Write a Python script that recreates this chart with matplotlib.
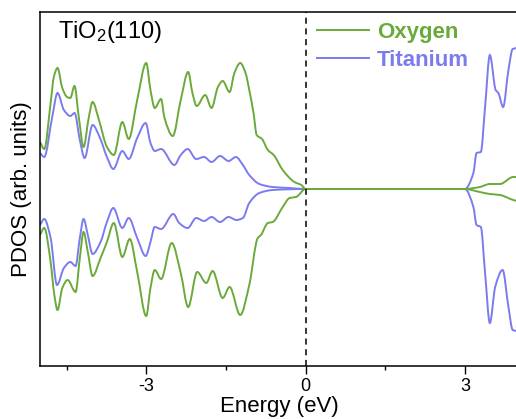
import numpy as np
import matplotlib
matplotlib.use('Agg')
import matplotlib.pyplot as plt
from matplotlib.path import Path
from matplotlib.patches import PathPatch
from matplotlib.lines import Line2D

plt.rcParams['font.family'] = ['Liberation Sans', 'DejaVu Sans']
plt.rcParams['mathtext.default'] = 'regular'
plt.rcParams['axes.unicode_minus'] = False

# PDOS (energy in eV, arbitrary units), spin up > 0, spin down < 0
o_up_e = [-5.00, -4.92, -4.80, -4.74, -4.67, -4.58, -4.49, -4.43, -4.35, -4.27, -4.18, -4.08,
          -4.01, -3.89, -3.74, -3.61, -3.45, -3.33, -3.17, -3.00, -2.92, -2.84, -2.72, -2.66,
          -2.50, -2.35, -2.21, -2.13, -2.05, -1.89, -1.77, -1.65, -1.56, -1.43, -1.34, -1.23,
          -1.13, -1.06, -0.98, -0.92, -0.82, -0.71, -0.60, -0.43, -0.21, -0.08, 0.00,
          3.00, 3.28, 3.47, 3.66, 3.91, 3.98]
o_up_v = [47, 40, 86, 112, 121, 101, 92, 91, 103, 72, 42, 72,
          87, 69, 42, 34, 67, 50, 89, 126, 99, 81, 90, 72,
          53, 89, 117, 96, 83, 94, 81, 102, 108, 97, 116, 126,
          116, 99, 76, 54, 50, 39, 34, 19, 7, 4, 0,
          0, 2, 5, 5, 12, 12]

ti_up_e = [-5.00, -4.92, -4.77, -4.67, -4.55, -4.43, -4.35, -4.25, -4.16, -4.01, -3.87, -3.74,
           -3.62, -3.45, -3.33, -3.17, -3.01, -2.92, -2.84, -2.72, -2.47, -2.35, -2.22, -2.06,
           -1.91, -1.77, -1.61, -1.45, -1.31, -1.18, -1.06, -0.87, -0.62, -0.30, 0.00,
           3.00, 3.16, 3.22, 3.30, 3.38, 3.47, 3.58, 3.63, 3.72, 3.82, 3.90, 3.98]
ti_up_v = [36, 32, 72, 96, 79, 73, 76, 49, 31, 64, 51, 32,
           20, 38, 30, 51, 66, 46, 38, 40, 24, 34, 40, 30,
           32, 27, 33, 28, 32, 24, 14, 5, 2, 1, 0,
           0, 16, 36, 37, 82, 134, 99, 96, 82, 119, 140, 141]

o_dn_e = [-5.00, -4.92, -4.80, -4.73, -4.67, -4.58, -4.48, -4.33, -4.25, -4.18, -4.10, -4.01,
          -3.86, -3.74, -3.61, -3.45, -3.31, -3.17, -3.00, -2.92, -2.84, -2.72, -2.52, -2.35,
          -2.21, -2.04, -1.87, -1.75, -1.56, -1.43, -1.23, -1.06, -0.90, -0.84, -0.71, -0.62,
          -0.43, -0.30, -0.18, 0.00,
          3.00, 3.28, 3.47, 3.66, 3.91, 3.98]
o_dn_v = [-46, -39, -73, -106, -121, -99, -91, -103, -69, -43, -63, -87,
          -69, -53, -34, -68, -50, -83, -127, -99, -81, -90, -54, -84,
          -118, -83, -94, -82, -109, -98, -126, -96, -49, -46, -34, -33,
          -18, -9, -8, 0,
          0, -3, -5, -6, -11, -12]

ti_dn_e = [-5.00, -4.92, -4.80, -4.68, -4.55, -4.43, -4.33, -4.25, -4.18, -4.10, -4.01, -3.86,
           -3.74, -3.62, -3.45, -3.33, -3.17, -3.01, -2.92, -2.84, -2.72, -2.49, -2.38, -2.22,
           -2.06, -1.91, -1.77, -1.61, -1.45, -1.30, -1.18, -1.06, -0.87, -0.62, 0.00,
           3.00, 3.16, 3.22, 3.30, 3.38, 3.47, 3.57, 3.71, 3.82, 3.90, 3.98]
ti_dn_v = [-36, -30, -49, -96, -79, -73, -77, -49, -30, -46, -65, -53,
           -33, -19, -39, -29, -49, -67, -53, -38, -40, -25, -34, -39,
           -29, -32, -28, -33, -28, -31, -29, -14, -4, -1, 0,
           0, -18, -36, -38, -84, -134, -98, -81, -118, -141, -142]

green = '#6aaa3a'
blue = '#7b7bef'


def smooth_path(x, y):
    """Bezier path through the read points (flat tangent at extrema, so no overshoot)."""
    x = np.asarray(x, float)
    y = np.asarray(y, float)
    h = np.diff(x)
    d = np.diff(y) / h
    m = np.zeros_like(y)
    for i in range(1, len(y) - 1):
        if d[i - 1] * d[i] > 0:
            w1 = 2 * h[i] + h[i - 1]
            w2 = h[i] + 2 * h[i - 1]
            m[i] = (w1 + w2) / (w1 / d[i - 1] + w2 / d[i])
    m[0] = d[0]
    m[-1] = d[-1]
    verts = [(x[0], y[0])]
    codes = [Path.MOVETO]
    for i in range(len(x) - 1):
        verts += [(x[i] + h[i] / 3, y[i] + m[i] * h[i] / 3),
                  (x[i + 1] - h[i] / 3, y[i + 1] - m[i + 1] * h[i] / 3),
                  (x[i + 1], y[i + 1])]
        codes += [Path.CURVE4] * 3
    return Path(verts, codes)


fig = plt.figure(figsize=(5.16, 4.19), dpi=100)
ax = fig.add_axes([40/516, 1 - 366/419, 478/516, 354/419])

for e, v, c in [(ti_up_e, ti_up_v, blue), (ti_dn_e, ti_dn_v, blue),
                (o_up_e, o_up_v, green), (o_dn_e, o_dn_v, green)]:
    ax.add_patch(PathPatch(smooth_path(e, v), fill=False, edgecolor=c, lw=1.4))
ax.axvline(0, color='black', lw=1.1, ls=(0, (4, 3)))

ax.set_xlim(-5, 4)
ax.set_ylim(-177, 177)
ax.set_xticks([-3, 0, 3])
ax.set_xticks([-4.5, -1.5, 1.5], minor=True)
ax.set_yticks([])
ax.tick_params(axis='x', which='major', direction='out', length=5.5, width=1.0,
               labelsize=13, pad=3)
ax.tick_params(axis='x', which='minor', direction='out', length=3, width=1.0)
for s in ax.spines.values():
    s.set_linewidth(1.1)

ax.set_xlabel('Energy (eV)', fontsize=16, labelpad=1)
ax.set_ylabel('PDOS (arb. units)', fontsize=16, labelpad=6)

ax.text(18/478, (366 - 38)/354, 'TiO$_2$(110)', fontsize=17,
        transform=ax.transAxes, va='baseline', ha='left')

handles = [Line2D([], [], color=green, lw=1.4), Line2D([], [], color=blue, lw=1.4)]
ax.legend(handles, ['Oxygen', 'Titanium'], loc='upper left',
          bbox_to_anchor=(317/516, 1 - 22/419), bbox_transform=fig.transFigure,
          frameon=False, borderpad=0, borderaxespad=0, handlelength=2.35,
          handletextpad=0.35, labelspacing=0.3,
          prop={'weight': 'bold', 'size': 16}, labelcolor='linecolor')

fig.savefig('out.png', dpi=100)
